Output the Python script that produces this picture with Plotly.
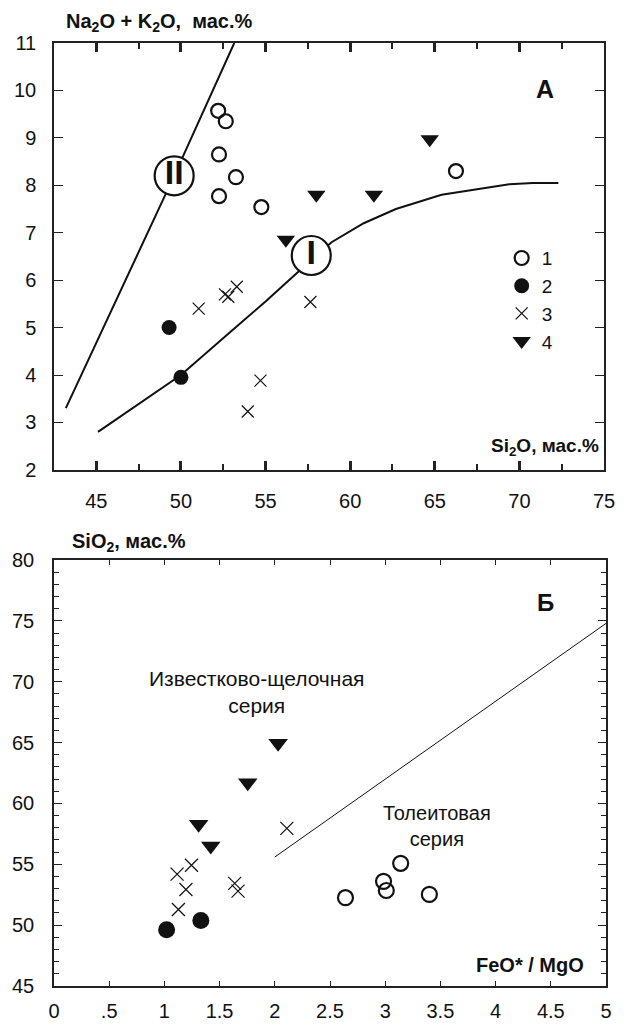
import plotly.graph_objects as go

# ---------------- Panel A: Na2O+K2O vs SiO2 ----------------
a_s1_x = [52.2, 52.65, 52.25, 53.25, 52.25, 54.75, 66.25]
a_s1_y = [9.57, 9.35, 8.65, 8.17, 7.77, 7.54, 8.3]
a_s2_x = [49.3, 50.0]
a_s2_y = [5.0, 3.95]
a_s3_x = [51.05, 52.6, 52.8, 53.3, 54.7, 53.95, 57.65]
a_s3_y = [5.4, 5.7, 5.65, 5.86, 3.88, 3.23, 5.54]
a_s4_x = [56.2, 58.0, 61.4, 64.7]
a_s4_y = [6.85, 7.8, 7.8, 8.97]

line1_x = [45.1, 50.0, 52.9, 55.0, 57.0, 58.9, 60.8, 62.7, 65.4, 67.5, 69.4, 70.8, 72.3]
line1_y = [2.8, 4.0, 4.9, 5.55, 6.2, 6.8, 7.2, 7.5, 7.8, 7.92, 8.02, 8.05, 8.05]
line2_x = [43.2, 49.6, 53.15]
line2_y = [3.3, 8.2, 11.0]

field_labels = ["II", "I"]
field_x = [49.6, 57.7]
field_y = [8.2, 6.52]

series_names = ["1", "2", "3", "4"]

# ---------------- Panel B: SiO2 vs FeO*/MgO ----------------
b_s1_x = [2.64, 2.985, 3.01, 3.14, 3.40]
b_s1_y = [52.26, 53.6, 52.85, 55.08, 52.53]
b_s2_x = [1.02, 1.33]
b_s2_y = [49.62, 50.38]
b_s3_x = [1.115, 1.245, 1.195, 1.127, 1.637, 1.667, 2.109]
b_s3_y = [54.2, 54.92, 52.93, 51.29, 53.44, 52.8, 57.96]
b_s4_x = [1.31, 1.42, 1.755, 2.03]
b_s4_y = [58.3, 56.5, 61.7, 64.95]

div_x = [2.0, 5.0]
div_y = [55.6, 74.8]

b_tickvals = [0, 0.5, 1, 1.5, 2, 2.5, 3, 3.5, 4, 4.5, 5]
b_ticktext = ["0", ".5", "1", "1.5", "2", "2.5", "3", "3.5", "4", "4.5", "5"]

FONT = "Arial, 'Liberation Sans', sans-serif"
INK = "#111111"

fig = go.Figure()

# Panel A lines
fig.add_trace(go.Scatter(x=line2_x, y=line2_y, mode="lines", line=dict(color=INK, width=2),
                         showlegend=False, xaxis="x", yaxis="y", hoverinfo="skip"))
fig.add_trace(go.Scatter(x=line1_x, y=line1_y, mode="lines", line=dict(color=INK, width=2),
                         showlegend=False, xaxis="x", yaxis="y", hoverinfo="skip"))
# Field labels in circles
fig.add_trace(go.Scatter(x=field_x, y=field_y, mode="markers+text",
                         text=["<b>%s</b>" % t for t in field_labels],
                         textposition="middle center",
                         textfont=dict(family=FONT, size=34, color=INK),
                         marker=dict(symbol="circle", size=39, color="white",
                                     line=dict(color=INK, width=2.2)),
                         showlegend=False, xaxis="x", yaxis="y", hoverinfo="skip"))

# Panel A points (legend)
fig.add_trace(go.Scatter(x=a_s1_x, y=a_s1_y, mode="markers", name=series_names[0], legendgroup="g1",
                         marker=dict(symbol="circle-open", size=14, color=INK, line=dict(width=2.2)),
                         xaxis="x", yaxis="y"))
fig.add_trace(go.Scatter(x=a_s2_x, y=a_s2_y, mode="markers", name=series_names[1], legendgroup="g2",
                         marker=dict(symbol="circle", size=15, color=INK),
                         xaxis="x", yaxis="y"))
fig.add_trace(go.Scatter(x=a_s3_x, y=a_s3_y, mode="markers", name=series_names[2], legendgroup="g3",
                         marker=dict(symbol="x-thin", size=12, color=INK, line=dict(width=1.2, color=INK)),
                         xaxis="x", yaxis="y"))
fig.add_trace(go.Scatter(x=a_s4_x, y=a_s4_y, mode="markers", name=series_names[3], legendgroup="g4",
                         marker=dict(symbol="triangle-down", size=16, color=INK),
                         xaxis="x", yaxis="y"))

# Panel B
fig.add_trace(go.Scatter(x=div_x, y=div_y, mode="lines", line=dict(color=INK, width=1),
                         showlegend=False, xaxis="x2", yaxis="y2", hoverinfo="skip"))
fig.add_trace(go.Scatter(x=b_s1_x, y=b_s1_y, mode="markers", showlegend=False,
                         marker=dict(symbol="circle-open", size=15, color=INK, line=dict(width=2.2)),
                         xaxis="x2", yaxis="y2"))
fig.add_trace(go.Scatter(x=b_s2_x, y=b_s2_y, mode="markers", showlegend=False,
                         marker=dict(symbol="circle", size=17, color=INK),
                         xaxis="x2", yaxis="y2"))
fig.add_trace(go.Scatter(x=b_s3_x, y=b_s3_y, mode="markers", showlegend=False,
                         marker=dict(symbol="x-thin", size=13, color=INK, line=dict(width=1.2, color=INK)),
                         xaxis="x2", yaxis="y2"))
fig.add_trace(go.Scatter(x=b_s4_x, y=b_s4_y, mode="markers", showlegend=False,
                         marker=dict(symbol="triangle-down", size=17, color=INK),
                         xaxis="x2", yaxis="y2"))

axis_common = dict(showgrid=False, zeroline=False, showline=True, linecolor="#222222", linewidth=1.5,
                   mirror="allticks", ticks="inside", tickcolor="#222222",
                   tickfont=dict(family=FONT, size=20, color=INK))

fig.update_layout(
    width=629, height=1034,
    margin=dict(l=50, r=14, t=43, b=30),
    paper_bgcolor="white", plot_bgcolor="white",
    font=dict(family=FONT, color=INK),
    showlegend=True,
    legend=dict(x=0.811, y=0.792, xanchor="left", yanchor="top",
                font=dict(family=FONT, size=19, color=INK),
                tracegroupgap=0, bgcolor="rgba(0,0,0,0)", traceorder="grouped"),
    xaxis=dict(domain=[0, 563 / 565], anchor="y", range=[42.5, 75], tick0=45, dtick=5,
               ticklen=9, tickwidth=2.5, ticklabelstandoff=12,
               minor=dict(dtick=2.5, tick0=45, ticklen=6, tickwidth=1.5, ticks="inside", tickcolor="#222222"),
               **axis_common),
    yaxis=dict(domain=[526 / 961, 1], anchor="x", range=[2, 11], dtick=1, ticklen=9, tickwidth=1.3,
               ticklabelstandoff=12, **axis_common),
    xaxis2=dict(domain=[0, 1], anchor="y2", range=[0, 5], tickvals=b_tickvals, ticktext=b_ticktext,
                ticklen=5, tickwidth=1, ticklabelstandoff=6, **axis_common),
    yaxis2=dict(domain=[0, 434 / 961], anchor="x2", range=[45, 80], dtick=5, ticklen=8, tickwidth=1.2,
                ticklabelstandoff=14,
                minor=dict(dtick=1, ticklen=5, tickwidth=1, ticks="inside", tickcolor="#222222"),
                **axis_common),
)

annotations = [
    dict(text="<b>Na<sub>2</sub>O + K<sub>2</sub>O,  мас.%</b>", xref="paper", yref="paper",
         x=0.1903, y=1.0219, xanchor="center", yanchor="middle", showarrow=False,
         font=dict(family=FONT, size=20, color=INK)),
    dict(text="<b>Si<sub>2</sub>O, мас.%</b>", xref="x", yref="y", x=74.8, y=2.475,
         xanchor="right", yanchor="middle", showarrow=False, font=dict(family=FONT, size=19, color=INK)),
    dict(text="<b>А</b>", xref="x", yref="y", x=71.54, y=10.03, xanchor="center", yanchor="middle",
         showarrow=False, font=dict(family=FONT, size=25, color=INK)),
    dict(text="<b>SiO<sub>2</sub>, мас.%</b>", xref="paper", yref="paper", x=0.1354, y=0.4703,
         xanchor="center", yanchor="middle", showarrow=False, font=dict(family=FONT, size=20, color=INK)),
    dict(text="<b>Б</b>", xref="x2", yref="y2", x=4.45, y=76.53, xanchor="center", yanchor="middle",
         showarrow=False, font=dict(family=FONT, size=24, color=INK)),
    dict(text="<b>FeO* / MgO</b>", xref="x2", yref="y2", x=4.82, y=46.7, xanchor="right", yanchor="middle",
         showarrow=False, font=dict(family=FONT, size=20, color=INK)),
    dict(text="Известково-щелочная<br>серия", xref="x2", yref="y2", x=1.83, y=69.15,
         xanchor="center", yanchor="middle", showarrow=False, font=dict(family=FONT, size=21, color=INK)),
    dict(text="Толеитовая<br>серия", xref="x2", yref="y2", x=3.47, y=58.19,
         xanchor="center", yanchor="middle", showarrow=False, font=dict(family=FONT, size=20, color=INK)),
]
fig.update_layout(annotations=annotations)

fig.write_html("out.html")
